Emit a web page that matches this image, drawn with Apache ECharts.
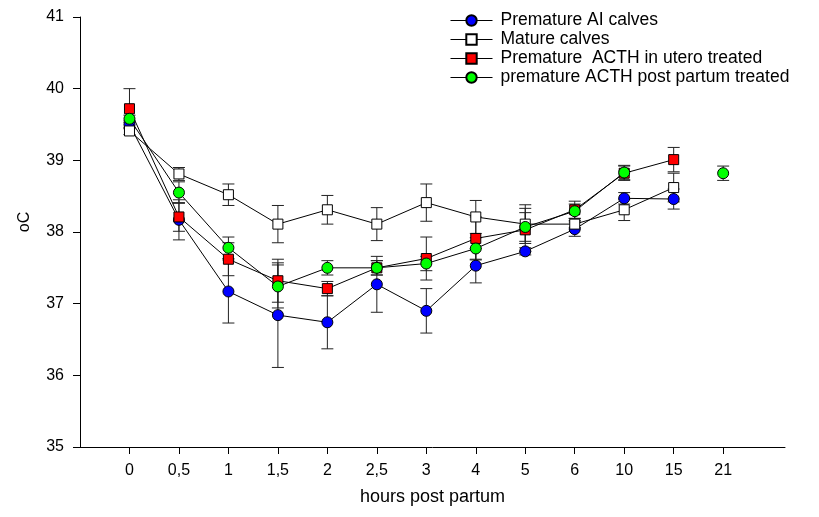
<!DOCTYPE html>
<html>
<head>
<meta charset="utf-8">
<script src="https://cdn.jsdelivr.net/npm/echarts@6/dist/echarts.min.js"></script>
<style>
html,body{margin:0;padding:0;background:#fff;}
#chart{width:819px;height:517px;}
</style>
</head>
<body>
<div id="chart"></div>
<script>
const categories = ['0','0,5','1','1,5','2','2,5','3','4','5','6','10','15','21'];
const premAI = [39.5, 38.17, 37.17, 36.84, 36.74, 37.27, 36.9, 37.53, 37.73, 38.04, 38.47, 38.46, null];
const premAIErr = [0.05, 0.28, 0.44, 0.73, 0.37, 0.39, 0.31, 0.24, 0.05, 0.1, 0.08, 0.14, null];
const mature = [39.41, 38.81, 38.52, 38.11, 38.31, 38.11, 38.41, 38.21, 38.11, 38.11, 38.31, 38.62, null];
const matureErr = [0.05, 0.09, 0.15, 0.26, 0.2, 0.23, 0.26, 0.23, 0.27, 0.05, 0.15, 0.2, null];
const acthUtero = [39.72, 38.21, 37.62, 37.32, 37.21, 37.5, 37.63, 37.91, 38.03, 38.31, 38.82, 39.01, null];
const acthUteroErr = [0.28, 0.2, 0.23, 0.3, 0.1, 0.1, 0.3, 0.3, 0.3, 0.12, 0.1, 0.17, null];
const acthPost = [39.58, 38.55, 37.78, 37.24, 37.5, 37.5, 37.56, 37.77, 38.07, 38.29, 38.83, null, 38.82];
const acthPostErr = [0.05, 0.15, 0.15, 0.3, 0.1, 0.1, 0.1, 0.15, 0.2, 0.1, 0.1, null, 0.1];

const seriesNames = ['Premature AI calves', 'Mature calves', 'Premature  ACTH in utero treated', 'premature ACTH post partum treated'];
const seriesValues = [premAI, mature, acthUtero, acthPost];
const seriesErrs = [premAIErr, matureErr, acthUteroErr, acthPostErr];
const seriesColors = ['#0000ff', '#ffffff', '#ff0000', '#00ff00'];
const seriesSymbols = ['circle', 'rect', 'rect', 'circle'];
const seriesSizes = [11, 10, 10, 11];

const FONT = 'Liberation Sans, Arial, sans-serif';
const tickIdx = categories.map((c, i) => i);

function errRender(params, api) {
  const x = api.value(0), y = api.value(1), e = api.value(2);
  const t = api.coord([x, y + e]);
  const b = api.coord([x, y - e]);
  const hw = 6;
  const st = {stroke: '#222', lineWidth: 1};
  return {
    type: 'group',
    children: [
      {type: 'line', shape: {x1: t[0], y1: t[1], x2: b[0], y2: b[1]}, style: st},
      {type: 'line', shape: {x1: t[0] - hw, y1: t[1], x2: t[0] + hw, y2: t[1]}, style: st},
      {type: 'line', shape: {x1: b[0] - hw, y1: b[1], x2: b[0] + hw, y2: b[1]}, style: st}
    ]
  };
}

const series = [];
seriesValues.forEach((vals, k) => {
  series.push({
    type: 'custom',
    name: seriesNames[k] + ' err',
    renderItem: errRender,
    z: 1,
    silent: true,
    encode: {x: 0, y: 1},
    data: vals.map((v, i) => v == null ? null : [i, v, seriesErrs[k][i]]).filter(d => d)
  });
});
seriesValues.forEach((vals, k) => {
  series.push({
    type: 'line',
    name: seriesNames[k],
    z: 3 + k,
    symbol: seriesSymbols[k],
    symbolSize: seriesSizes[k],
    showAllSymbol: true,
    connectNulls: false,
    lineStyle: {color: '#000', width: 1},
    itemStyle: {color: seriesColors[k], borderColor: '#000', borderWidth: 1},
    emphasis: {disabled: true},
    data: vals.map((v, i) => [i, v == null ? '-' : v])
  });
});

const chart = echarts.init(document.getElementById('chart'), null, {renderer: 'canvas'});
chart.setOption({
  animation: false,
  backgroundColor: '#fff',
  textStyle: {fontFamily: FONT},
  grid: {left: 80, right: 34, top: 17, bottom: 70},
  legend: {
    data: seriesNames,
    orient: 'vertical',
    left: 445,
    top: 6,
    itemWidth: 42,
    itemHeight: 13,
    itemGap: 0,
    lineStyle: {width: 1, color: '#000'},
    textStyle: {fontSize: 17.5, color: '#000', fontFamily: FONT, lineHeight: 19, padding: [0, 0, 0, 3]}
  },
  xAxis: {
    type: 'value',
    min: -1,
    max: 13.25,
    name: 'hours post partum',
    nameLocation: 'middle',
    nameGap: 41,
    nameTextStyle: {fontSize: 18, color: '#000', fontFamily: FONT},
    axisLine: {show: true, onZero: false, lineStyle: {color: '#000', width: 1}},
    axisTick: {show: true, length: 7, customValues: tickIdx, lineStyle: {color: '#000'}},
    axisLabel: {customValues: tickIdx, formatter: v => categories[v], fontSize: 16, color: '#000', margin: 16, fontFamily: FONT},
    splitLine: {show: false}
  },
  yAxis: {
    type: 'value',
    min: 35,
    max: 41,
    interval: 1,
    name: 'oC',
    nameLocation: 'middle',
    nameGap: 47,
    nameRotate: 90,
    nameTextStyle: {fontSize: 16, color: '#000', fontFamily: FONT, padding: [0, 0, 0, 20]},
    axisLine: {show: true, onZero: false, lineStyle: {color: '#000', width: 1}},
    axisTick: {show: true, length: 7, lineStyle: {color: '#000'}},
    axisLabel: {fontSize: 16, color: '#000', margin: 16, fontFamily: FONT},
    splitLine: {show: false}
  },
  series: series
});
</script>
</body>
</html>
